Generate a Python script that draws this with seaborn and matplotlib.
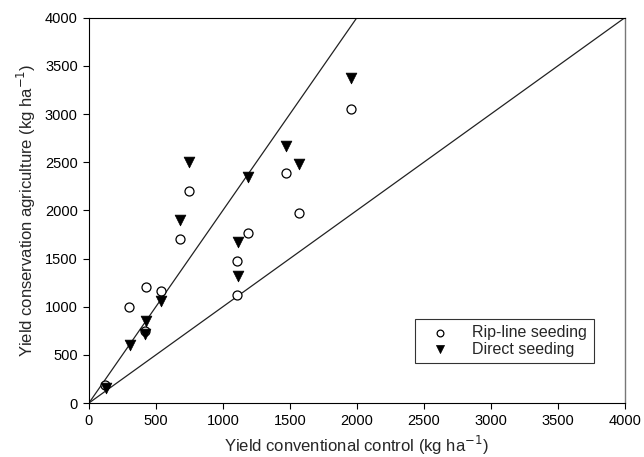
import matplotlib
matplotlib.use("Agg")
import matplotlib.pyplot as plt
import seaborn as sns
import pandas as pd
import numpy as np

# Data
rip_x = [120, 300, 420, 430, 535, 680, 750, 1105, 1105, 1185, 1475, 1565, 1955]
rip_y = [190, 1000, 750, 1200, 1165, 1700, 2200, 1120, 1470, 1770, 2390, 1970, 3050]
direct_x = [125, 305, 420, 430, 535, 680, 750, 1110, 1110, 1190, 1475, 1565, 1955]
direct_y = [160, 600, 720, 855, 1065, 1905, 2500, 1320, 1670, 2345, 2670, 2480, 3380]

# Reference lines (1:1 and 2:1)
line_1to1_x = [0, 4000]
line_1to1_y = [0, 4000]
line_2to1_x = [0, 2000]
line_2to1_y = [0, 4000]

ticks = [0, 500, 1000, 1500, 2000, 2500, 3000, 3500, 4000]

sns.set_theme(style="ticks")
plt.rcParams['font.family'] = ['Liberation Sans', 'DejaVu Sans']

fig = plt.figure(figsize=(6.44, 4.57), dpi=100)
ax = fig.add_axes([0.138, 0.118, 0.832, 0.843])

sns.lineplot(x=line_2to1_x, y=line_2to1_y, ax=ax, color="#222222", lw=0.9)
sns.lineplot(x=line_1to1_x, y=line_1to1_y, ax=ax, color="#222222", lw=0.9)

sns.scatterplot(x=rip_x, y=rip_y, ax=ax, marker="o", s=42,
                facecolor="white", edgecolor="black", linewidth=0.9,
                label="Rip-line seeding", zorder=3)
sns.scatterplot(x=direct_x, y=direct_y, ax=ax, marker="v", s=60,
                color="black", edgecolor="black", linewidth=0.5,
                label="Direct seeding", zorder=4)

ax.set_xlim(0, 4000)
ax.set_ylim(0, 4000)
ax.set_xticks(ticks)
ax.set_yticks(ticks)
ax.tick_params(axis="both", labelsize=10.5, direction="out", length=4, width=0.8,
               colors="black", top=False, right=False, pad=4)
for s in ["left", "bottom", "top"]:
    ax.spines[s].set_color("black")
    ax.spines[s].set_linewidth(0.8)
ax.spines["right"].set_color("#777777")
ax.spines["right"].set_linewidth(1.0)

ax.set_xlabel("Yield conventional control (kg ha$^{-1}$)", fontsize=12, labelpad=4)
ax.set_ylabel("Yield conservation agriculture (kg ha$^{-1}$)", fontsize=12, labelpad=5)

leg = ax.legend(loc="lower right", bbox_to_anchor=(0.942, 0.104), fontsize=11.5,
                frameon=True, fancybox=False, edgecolor="black", borderpad=0.4,
                handletextpad=0.8, labelspacing=0.1, markerscale=0.75,
                handlelength=2.4, borderaxespad=0)
leg.get_frame().set_linewidth(0.8)

fig.savefig("out.png", dpi=100)
